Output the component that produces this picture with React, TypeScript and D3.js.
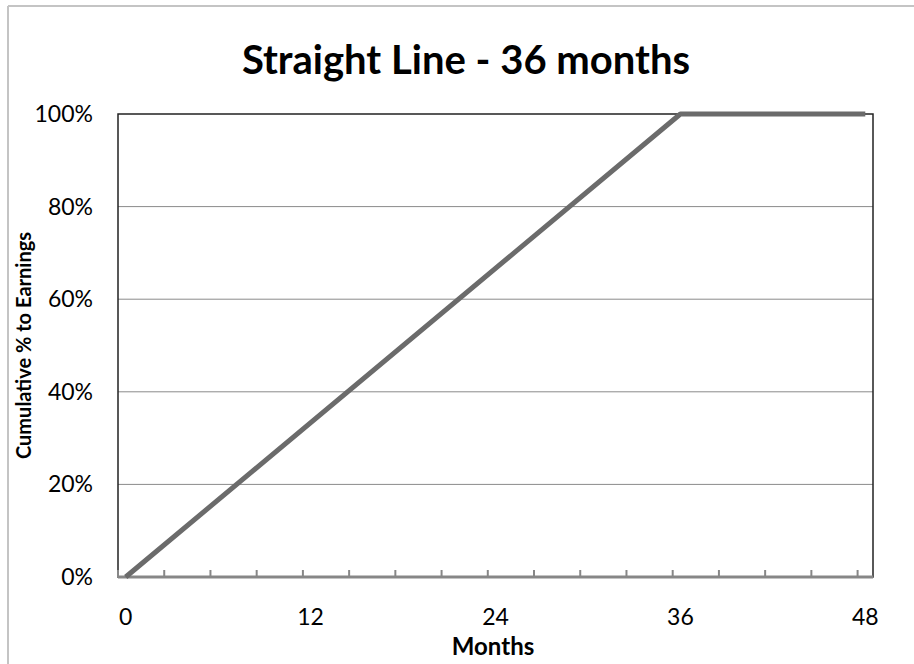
import React from "react";
import * as d3 from "d3";

const months: number[] = d3.range(0, 49);
const lineMonths = [0, 36, 48];
const lineValues = [0, 1, 1];
const xTickLabels = [0, 12, 24, 36, 48];
const yTicks = [0, 0.2, 0.4, 0.6, 0.8, 1.0];
const minorTickMonths = [0, 3, 6, 9, 12, 15, 18, 21, 24, 27, 30, 33, 36, 39, 42, 45, 48];
const title = "Straight Line - 36 months";
const yTitle = "Cumulative % to Earnings";
const xTitle = "Months";

const W = 914, H = 664;
const L = 118, R = 873, T = 114, B = 577;
const FONT = "Lato, 'Open Sans', sans-serif";

export default function App() {
  const x = d3.scaleBand<number>().domain(months).range([L, R]).paddingInner(0).paddingOuter(0);
  const bw = x.bandwidth();
  const cx = (m: number) => (x(m) as number) + bw / 2;
  const y = d3.scaleLinear().domain([0, 1]).range([B, T]);
  const pts: [number, number][] = lineMonths.map((m, i) => [cx(m), y(lineValues[i])]);
  const line = d3.line<[number, number]>().x(d => d[0]).y(d => d[1]);
  const fmt = d3.format(".0%");

  return (
    <div style={{ position: "absolute", left: 0, top: 0 }}>
      <svg width={W} height={H} style={{ display: "block", background: "#fff" }}>
        <rect x={0} y={0} width={W} height={H} fill="#fff" />
        <line x1={8} y1={6} x2={W} y2={6} stroke="#c4c4c4" strokeWidth={2} />
        <line x1={8} y1={6} x2={8} y2={H} stroke="#c4c4c4" strokeWidth={2} />
        <text x={466} y={74} textAnchor="middle" fontFamily={FONT} fontWeight="bold" fontSize={40} fill="#000">{title}</text>
        {yTicks.filter(v => v > 0 && v < 1).map(v => (
          <line key={"g" + v} x1={L} x2={R} y1={y(v)} y2={y(v)} stroke="#8a8a8a" strokeWidth={1} />
        ))}
        <rect x={L} y={T} width={R - L} height={B - T} fill="none" stroke="#222" strokeWidth={1.5} />
        <line x1={L} x2={R} y1={B} y2={B} stroke="#878787" strokeWidth={3} />
        {minorTickMonths.map(m => (
          <line key={"t" + m} x1={x(m) as number} x2={x(m) as number} y1={B} y2={B - 7} stroke="#878787" strokeWidth={2} />
        ))}
        {yTicks.map(v => (
          <text key={"y" + v} x={93} y={y(v)} dy="0.35em" textAnchor="end" fontFamily={FONT} fontSize={23} fill="#000">{fmt(v)}</text>
        ))}
        {xTickLabels.map(m => (
          <text key={"x" + m} x={cx(m)} y={625} textAnchor="middle" fontFamily={FONT} fontSize={23} fill="#000">{m}</text>
        ))}
        <path d={line(pts) || ""} fill="none" stroke="#6b6b6b" strokeWidth={5} strokeLinejoin="round" />
        <text x={493} y={655} textAnchor="middle" fontFamily={FONT} fontWeight="bold" fontSize={24} fill="#000">{xTitle}</text>
        <text transform={`translate(31,${(T + B) / 2}) rotate(-90)`} textAnchor="middle" fontFamily={FONT} fontWeight="bold" fontSize={20} fill="#000">{yTitle}</text>
      </svg>
    </div>
  );
}
